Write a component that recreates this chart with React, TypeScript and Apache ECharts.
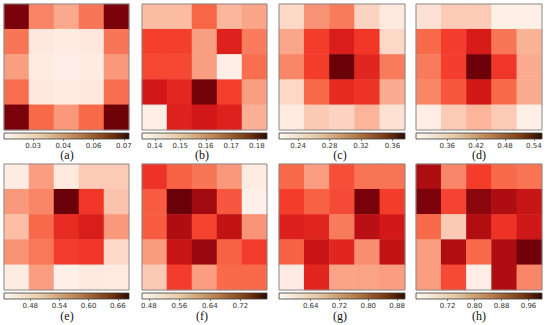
import React, { useEffect, useRef } from 'react';
import * as echarts from 'echarts';

const cellIds = ['0', '1', '2', '3', '4'];

const panelLabels = ['(a)', '(b)', '(c)', '(d)', '(e)', '(f)', '(g)', '(h)'];

const valuesA = [
  [0.068, 0.040, 0.034, 0.042, 0.068],
  [0.042, 0.022, 0.021, 0.022, 0.042],
  [0.036, 0.021, 0.020, 0.021, 0.037],
  [0.043, 0.022, 0.021, 0.022, 0.043],
  [0.068, 0.044, 0.037, 0.044, 0.069],
];
const valuesB = [
  [0.147, 0.147, 0.160, 0.148, 0.151],
  [0.165, 0.165, 0.152, 0.170, 0.157],
  [0.164, 0.164, 0.152, 0.137, 0.159],
  [0.172, 0.169, 0.183, 0.165, 0.152],
  [0.137, 0.170, 0.172, 0.170, 0.149],
];
const valuesC = [
  [0.240, 0.277, 0.288, 0.243, 0.227],
  [0.267, 0.315, 0.333, 0.318, 0.240],
  [0.283, 0.315, 0.376, 0.328, 0.288],
  [0.240, 0.296, 0.325, 0.320, 0.264],
  [0.224, 0.248, 0.243, 0.259, 0.235],
];
const valuesD = [
  [0.326, 0.347, 0.347, 0.305, 0.305],
  [0.426, 0.457, 0.489, 0.418, 0.368],
  [0.413, 0.457, 0.555, 0.463, 0.374],
  [0.405, 0.439, 0.492, 0.426, 0.374],
  [0.308, 0.347, 0.366, 0.347, 0.305],
];
const valuesE = [
  [0.441, 0.516, 0.444, 0.477, 0.477],
  [0.521, 0.534, 0.683, 0.590, 0.483],
  [0.488, 0.555, 0.601, 0.614, 0.521],
  [0.526, 0.544, 0.585, 0.590, 0.465],
  [0.441, 0.516, 0.434, 0.444, 0.441],
];
const valuesF = [
  [0.675, 0.633, 0.616, 0.583, 0.482],
  [0.639, 0.790, 0.751, 0.642, 0.472],
  [0.639, 0.741, 0.659, 0.724, 0.587],
  [0.580, 0.718, 0.757, 0.633, 0.665],
  [0.528, 0.665, 0.577, 0.626, 0.626],
];
const valuesG = [
  [0.727, 0.675, 0.752, 0.717, 0.717],
  [0.769, 0.734, 0.755, 0.892, 0.769],
  [0.804, 0.797, 0.710, 0.839, 0.815],
  [0.734, 0.825, 0.797, 0.692, 0.832],
  [0.570, 0.797, 0.668, 0.668, 0.675],
];
const valuesH = [
  [0.944, 0.783, 0.858, 0.813, 0.802],
  [0.985, 0.850, 0.974, 0.944, 0.918],
  [0.813, 0.701, 0.940, 0.869, 0.910],
  [0.757, 0.940, 0.813, 0.944, 0.993],
  [0.757, 0.843, 0.641, 0.944, 0.783],
];

const rangeA = [0.018, 0.0696];
const rangeB = [0.135, 0.184];
const rangeC = [0.2156, 0.376];
const rangeD = [0.295, 0.557];
const rangeE = [0.426, 0.683];
const rangeF = [0.462, 0.79];
const rangeG = [0.552, 0.902];
const rangeH = [0.626, 1.0];

const ticksA = [0.03, 0.0425, 0.055, 0.0675];
const tickLabelsA = ['0.03', '0.04', '0.06', '0.07'];
const ticksB = [0.14, 0.15, 0.16, 0.17, 0.18];
const tickLabelsB = ['0.14', '0.15', '0.16', '0.17', '0.18'];
const ticksC = [0.24, 0.28, 0.32, 0.36];
const tickLabelsC = ['0.24', '0.28', '0.32', '0.36'];
const ticksD = [0.36, 0.42, 0.48, 0.54];
const tickLabelsD = ['0.36', '0.42', '0.48', '0.54'];
const ticksE = [0.48, 0.54, 0.6, 0.66];
const tickLabelsE = ['0.48', '0.54', '0.60', '0.66'];
const ticksF = [0.48, 0.56, 0.64, 0.72];
const tickLabelsF = ['0.48', '0.56', '0.64', '0.72'];
const ticksG = [0.64, 0.72, 0.8, 0.88];
const tickLabelsG = ['0.64', '0.72', '0.80', '0.88'];
const ticksH = [0.72, 0.8, 0.88, 0.96];
const tickLabelsH = ['0.72', '0.80', '0.88', '0.96'];

const allValues = [valuesA, valuesB, valuesC, valuesD, valuesE, valuesF, valuesG, valuesH];
const allRanges = [rangeA, rangeB, rangeC, rangeD, rangeE, rangeF, rangeG, rangeH];
const allTicks = [ticksA, ticksB, ticksC, ticksD, ticksE, ticksF, ticksG, ticksH];
const allTickLabels = [tickLabelsA, tickLabelsB, tickLabelsC, tickLabelsD, tickLabelsE, tickLabelsF, tickLabelsG, tickLabelsH];

// layout (pixels)
const colLeft = [4, 142, 279, 416];
const colWidth = [125, 125, 126, 126];
const rowHeatTop = [4, 164];
const heatHeight = 126;
const rowBarTop = [133, 293];
const barHeight = 6;
const labelCenterX = [67, 202, 340, 479];
const labelTopY = [149, 310];

const reds = ['#fff5f0', '#fde0d2', '#fcbba1', '#f99678', '#f86a4a', '#f43a2a', '#d41818', '#a50a0f', '#6a0008'];

export default function App() {
  const ref = useRef<HTMLDivElement>(null);
  useEffect(() => {
    if (!ref.current) return;
    const chart = echarts.init(ref.current, null, { renderer: 'svg' });
    const grid: any[] = [];
    const xAxis: any[] = [];
    const yAxis: any[] = [];
    const series: any[] = [];
    const visualMap: any[] = [];
    const graphic: any[] = [];

    for (let i = 0; i < 8; i++) {
      const c = i % 4;
      const r = Math.floor(i / 4);
      const left = colLeft[c];
      const width = colWidth[c];
      grid.push({
        left, top: rowHeatTop[r], width, height: heatHeight,
        show: true, backgroundColor: 'transparent', borderColor: '#8a8a8a', borderWidth: 1, z: 5,
      });
      const hg = grid.length - 1;
      xAxis.push({ type: 'category', data: cellIds, gridIndex: hg, show: false });
      yAxis.push({ type: 'category', data: cellIds, gridIndex: hg, show: false, inverse: true });
      const data: any[] = [];
      allValues[i].forEach((row, ri) => row.forEach((v, ci) => data.push([ci, ri, v])));
      series.push({
        type: 'heatmap', xAxisIndex: hg, yAxisIndex: hg, data,
        itemStyle: { borderWidth: 0 },
        emphasis: { disabled: true },
      });
      visualMap.push({
        type: 'continuous', show: false, seriesIndex: i,
        min: allRanges[i][0], max: allRanges[i][1], inRange: { color: reds },
      });

      grid.push({
        left, top: rowBarTop[r], width, height: barHeight,
        show: true,
        backgroundColor: new echarts.graphic.LinearGradient(0, 0, 1, 0, [
          { offset: 0, color: '#fdf8f2' },
          { offset: 0.3, color: '#e6cba8' },
          { offset: 0.6, color: '#b87e4c' },
          { offset: 0.85, color: '#763812' },
          { offset: 1, color: '#2e0c00' },
        ]),
        borderColor: '#3a3a3a', borderWidth: 0.8,
      });
      const bg = grid.length - 1;
      const ticks = allTicks[i];
      const labels = allTickLabels[i];
      xAxis.push({
        type: 'value', gridIndex: bg, min: allRanges[i][0], max: allRanges[i][1],
        splitLine: { show: false },
        axisLine: { show: false },
        axisTick: { show: true, length: 2, customValues: ticks, lineStyle: { color: '#333', width: 0.6 } },
        axisLabel: {
          customValues: ticks,
          margin: 3,
          fontSize: 7,
          lineHeight: 7,
          fontFamily: 'DejaVu Sans',
          color: '#333',
          formatter: (v: number) => {
            let best = 0;
            for (let k = 1; k < ticks.length; k++) {
              if (Math.abs(ticks[k] - v) < Math.abs(ticks[best] - v)) best = k;
            }
            return labels[best];
          },
        },
      });
      yAxis.push({ type: 'value', gridIndex: bg, show: false });

      graphic.push({
        type: 'text', x: labelCenterX[c], y: labelTopY[r],
        style: {
          text: panelLabels[i], textAlign: 'center', textVerticalAlign: 'top',
          font: '12px "Liberation Serif", "DejaVu Serif", serif', fill: '#111',
        },
      });
    }

    chart.setOption({
      animation: false,
      backgroundColor: '#ffffff',
      grid, xAxis, yAxis, series, visualMap, graphic,
    });
    return () => chart.dispose();
  }, []);
  return <div ref={ref} style={{ position: 'fixed', left: 0, top: 0, width: 550, height: 325 }} />;
}
